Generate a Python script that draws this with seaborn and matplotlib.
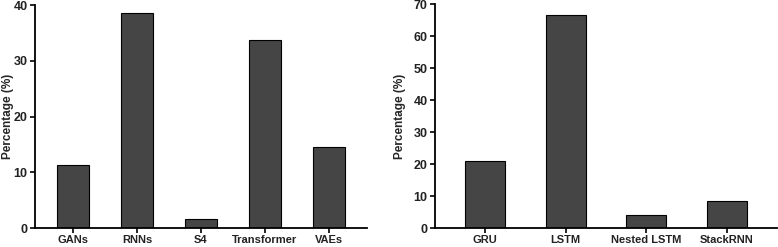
import matplotlib
matplotlib.use('Agg')
import matplotlib.pyplot as plt
import seaborn as sns
import pandas as pd

# 왼쪽: 생성 모델 종류별 비율
models = ['GANs', 'RNNs', 'S4', 'Transformer', 'VAEs']
model_pct = [11.3, 38.6, 1.6, 33.8, 14.5]

# 오른쪽: RNN 계열 세부 구조별 비율
rnn_types = ['GRU', 'LSTM', 'Nested LSTM', 'StackRNN']
rnn_pct = [20.9, 66.7, 4.2, 8.4]

sns.set_style('ticks')
plt.rcParams['font.family'] = ['Liberation Sans', 'DejaVu Sans']

df1 = pd.DataFrame({'model': models, 'pct': model_pct})
df2 = pd.DataFrame({'model': rnn_types, 'pct': rnn_pct})

fig = plt.figure(figsize=(7.78, 2.47), dpi=100)
W, H = 778, 247
ax1 = fig.add_axes([35 / W, 1 - 228 / H, 332 / W, 223 / H])
ax2 = fig.add_axes([435 / W, 1 - 228 / H, 342 / W, 224 / H])

# (축, 데이터, y최대, x범위, y라벨 x위치)
for ax, df, ymax, xl, lx in [(ax1, df1, 40, (-0.6, 4.6), -0.064),
                             (ax2, df2, 70, (-0.62, 3.62), -0.085)]:
    sns.barplot(data=df, x='model', y='pct', ax=ax, color='#454545',
                edgecolor='black', linewidth=0.8, width=0.5, saturation=1)
    ax.set_ylim(0, ymax)
    ax.set_yticks(range(0, ymax + 1, 10))
    ax.set_xlim(*xl)
    ax.set_xlabel('')
    ax.set_ylabel('Percentage (%)', fontsize=8.5, fontweight='bold')
    ax.yaxis.set_label_coords(lx, 0.5)
    for s in ['top', 'right']:
        ax.spines[s].set_visible(False)
    for s in ['left', 'bottom']:
        ax.spines[s].set_linewidth(1.3)
        ax.spines[s].set_color('black')
    ax.tick_params(axis='both', direction='out', length=3.8, width=1.2,
                   color='black', pad=1.5)
    ax.tick_params(axis='x', labelsize=8)
    ax.tick_params(axis='y', labelsize=9)
    for lab in ax.get_xticklabels() + ax.get_yticklabels():
        lab.set_fontweight('bold')
        lab.set_color('#222222')

fig.savefig('out.png', dpi=100)
